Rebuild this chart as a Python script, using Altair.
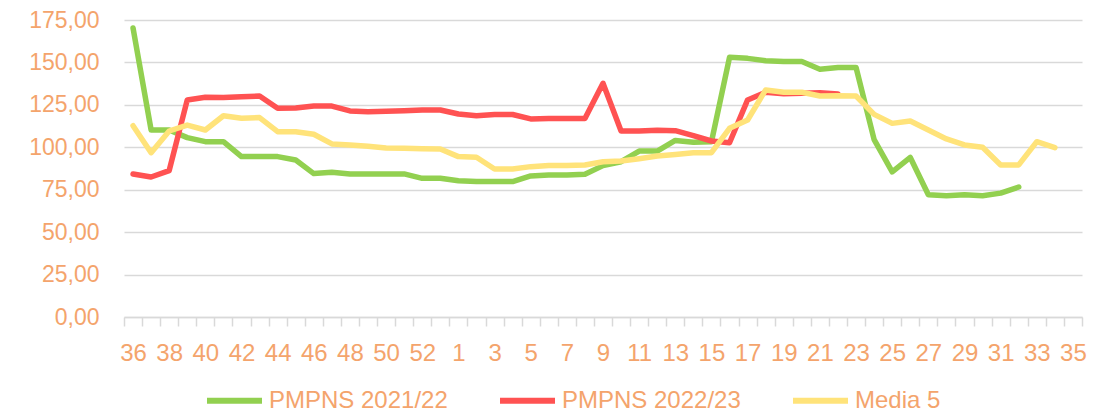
import altair as alt
import pandas as pd

weeks = [str(w) for w in list(range(36, 54)) + list(range(1, 36))]

series_names = ["PMPNS 2021/22", "PMPNS 2022/23", "Media 5"]
colors = ["#92D050", "#FF5252", "#FFE37A"]

pmpns_2021_22 = [
    170.3, 110.2, 110.2, 105.7, 103.3, 103.3, 94.5, 94.5, 94.5, 92.5,
    84.5, 85.3, 84.3, 84.3, 84.3, 84.3, 81.7, 81.7, 80.3, 79.8,
    79.8, 79.8, 83.1, 83.7, 83.7, 84.1, 89.2, 91.5, 97.8, 97.8,
    104.0, 103.0, 103.2, 153.0, 152.4, 151.0, 150.5, 150.5, 146.0, 147.0,
    147.0, 104.5, 85.5, 94.0, 72.0, 71.5, 72.0, 71.5, 73.0, 76.6,
    None, None, None,
]

pmpns_2022_23 = [
    84.3, 82.5, 86.3, 127.9, 129.5, 129.4, 129.8, 130.2, 123.0, 123.2,
    124.3, 124.3, 121.4, 121.0, 121.2, 121.6, 122.0, 122.0, 119.6, 118.6,
    119.3, 119.3, 116.7, 116.9, 117.0, 117.0, 137.7, 109.6, 109.6, 110.0,
    109.8, 106.9, 103.7, 102.7, 127.9, 132.4, 131.6, 131.8, 132.2, 131.4,
    None, None, None, None, None, None, None, None, None, None,
    None, None, None,
]

media_5 = [
    112.7, 96.8, 109.6, 113.1, 110.2, 118.6, 117.1, 117.5, 109.2, 109.2,
    107.7, 102.0, 101.4, 100.6, 99.6, 99.4, 99.1, 99.0, 94.5, 94.1,
    87.2, 87.2, 88.6, 89.2, 89.2, 89.6, 91.5, 91.9, 93.3, 94.9,
    95.8, 96.8, 96.8, 111.2, 116.1, 133.8, 132.4, 132.4, 130.2, 130.4,
    130.2, 119.4, 114.1, 115.5, 110.2, 104.9, 101.4, 100.0, 89.6, 89.6,
    103.3, 99.8, None,
]

rows = []
for name, vals in zip(series_names, [pmpns_2021_22, pmpns_2022_23, media_5]):
    for i, (w, v) in enumerate(zip(weeks, vals)):
        if v is not None:
            rows.append({"week": w, "idx": i, "serie": name, "valor": v})
df = pd.DataFrame(rows)

label_color = "#F4A46C"
font = "Liberation Sans"

label_expr = (
    "(toNumber(datum.value) >= 36 ? toNumber(datum.value) % 2 == 0 : "
    "toNumber(datum.value) % 2 == 1) ? datum.value : ''"
)

chart = (
    alt.Chart(df)
    .mark_line(strokeWidth=5.5, strokeCap="round", strokeJoin="round")
    .encode(
        x=alt.X(
            "week:O",
            sort=weeks,
            scale=alt.Scale(domain=weeks, paddingInner=0, paddingOuter=0),
            axis=alt.Axis(
                title=None,
                labelAngle=0,
                labelExpr=label_expr,
                labelFont=font,
                labelFontSize=24,
                labelColor=label_color,
                labelPadding=15,
                tickBand="extent",
                ticks=True,
                tickSize=9,
                tickColor="#D9D9D9",
                tickWidth=1.5,
                domainColor="#D9D9D9",
                domainWidth=1.5,
                grid=False,
                labelOverlap=False,
            ),
        ),
        y=alt.Y(
            "valor:Q",
            scale=alt.Scale(domain=[0, 175], nice=False, zero=True),
            axis=alt.Axis(
                title=None,
                values=[0, 25, 50, 75, 100, 125, 150, 175],
                labelExpr="replace(format(datum.value, '.2f'), '.', ',')",
                labelFont=font,
                labelFontSize=23,
                labelColor=label_color,
                labelPadding=25,
                ticks=False,
                domain=False,
                grid=True,
                gridColor="#D9D9D9",
                gridWidth=1.5,
            ),
        ),
        color=alt.Color(
            "serie:N",
            scale=alt.Scale(domain=series_names, range=colors),
            sort=series_names,
            legend=alt.Legend(
                title=None,
                orient="none",
                legendX=80,
                legendY=350,
                direction="horizontal",
                symbolType="stroke",
                symbolSize=3025,
                symbolStrokeWidth=6,
                labelFont=font,
                labelFontSize=24,
                labelColor=label_color,
                labelOffset=4,
                columnPadding=40,
                labelLimit=400,
            ),
        ),
        order=alt.Order("idx:Q"),
    )
    .properties(
        width=958,
        height=297,
        autosize=alt.AutoSizeParams(type="none"),
        padding={"left": 116, "top": 12, "right": 19, "bottom": 100},
    )
    .configure_view(stroke=None)
)

chart.save("out.html", embed_options={"renderer": "svg", "actions": False})
